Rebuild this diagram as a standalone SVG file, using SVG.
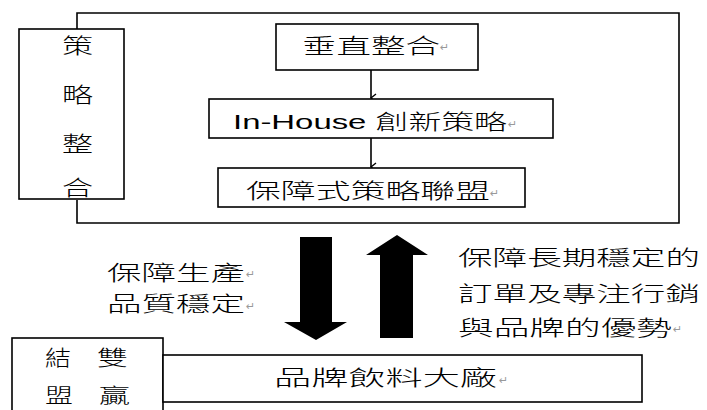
<svg xmlns="http://www.w3.org/2000/svg" width="707" height="410" viewBox="0 0 707 410">
<defs>
<style>
.box{fill:#fff;stroke:#000;stroke-width:1.6}
.ln{fill:none;stroke:#000;stroke-width:1.6}
.t{font-family:"Noto Sans CJK TC","Liberation Sans",sans-serif;font-size:21px;font-weight:300;fill:#000}
.lat{font-family:"Liberation Sans","Noto Sans CJK TC",sans-serif;font-size:21px;font-weight:300;fill:#000}
.rm{font-family:"DejaVu Sans",sans-serif;font-size:11px;fill:#999}
</style>
<marker id="ah" markerWidth="10" markerHeight="10" refX="5" refY="8" orient="auto" markerUnits="userSpaceOnUse" viewBox="0 0 10 10">
<path d="M1,3 L5,8 L9,3" fill="none" stroke="#000" stroke-width="1.4"/>
</marker>
</defs>
<rect width="707" height="410" fill="#fff"/>
<g id="connectors">
<polyline class="ln" points="77,29 77,13 679,13 679,223 77,223 77,200"/>
<path d="M69,199 L73,193 L77,199 Z" fill="#999"/>
<line class="ln" x1="371" y1="70" x2="371" y2="98" marker-end="url(#ah)"/>
<line class="ln" x1="371" y1="138" x2="371" y2="167" marker-end="url(#ah)"/>
<polygon points="300,237 332,237 332,322 347,322 316,340 284,322 300,322" fill="#000"/>
<polygon points="380,338 413,338 413,255 428,255 397,235 366,255 380,255" fill="#000"/>
</g>
<g id="strategy">
<rect class="box" x="19" y="29" width="105" height="170"/>
<text class="t" x="62" y="53" textLength="31" lengthAdjust="spacingAndGlyphs">策</text>
<text class="t" x="62" y="102" textLength="31" lengthAdjust="spacingAndGlyphs">略</text>
<text class="t" x="62" y="151" textLength="31" lengthAdjust="spacingAndGlyphs">整</text>
<text class="t" x="62" y="195" textLength="31" lengthAdjust="spacingAndGlyphs">合</text>
</g>
<g id="vertical">
<rect class="box" x="276" y="24" width="202" height="46"/>
<text class="t" x="302" y="53" textLength="138" lengthAdjust="spacingAndGlyphs">垂直整合</text>
<text class="rm" x="440" y="51">↵</text>
</g>
<g id="inhouse">
<rect class="box" x="209" y="99" width="344" height="39"/>
<text class="lat" x="233" y="129" textLength="274" lengthAdjust="spacingAndGlyphs">In-House 創新策略</text>
<text class="rm" x="508" y="128">↵</text>
</g>
<g id="alliance">
<rect class="box" x="218" y="168" width="307" height="39"/>
<text class="t" x="246" y="198" textLength="244" lengthAdjust="spacingAndGlyphs">保障式策略聯盟</text>
<text class="rm" x="490" y="197">↵</text>
</g>
<g id="label-left">
<text class="t" x="107" y="280" textLength="138" lengthAdjust="spacingAndGlyphs">保障生產</text>
<text class="rm" x="246" y="278">↵</text>
<text class="t" x="107" y="311" textLength="138" lengthAdjust="spacingAndGlyphs">品質穩定</text>
<text class="rm" x="246" y="310">↵</text>
</g>
<g id="label-right">
<text class="t" x="458" y="265" textLength="242" lengthAdjust="spacingAndGlyphs">保障長期穩定的</text>
<text class="t" x="458" y="301" textLength="242" lengthAdjust="spacingAndGlyphs">訂單及專注行銷</text>
<text class="t" x="458" y="335" textLength="214" lengthAdjust="spacingAndGlyphs">與品牌的優勢</text>
<text class="rm" x="673" y="333">↵</text>
</g>
<g id="winwin">
<rect class="box" x="12" y="338" width="151" height="80"/>
<text class="t" x="45" y="365" textLength="26" lengthAdjust="spacingAndGlyphs">結</text>
<text class="t" x="97" y="365" textLength="31" lengthAdjust="spacingAndGlyphs">雙</text>
<text class="t" x="45" y="403" style="font-size:20px" textLength="28" lengthAdjust="spacingAndGlyphs">盟</text>
<text class="t" x="99" y="403" style="font-size:20px" textLength="31" lengthAdjust="spacingAndGlyphs">贏</text>
</g>
<g id="brand">
<rect class="box" x="163" y="355" width="479" height="47"/>
<text class="t" x="274" y="385" textLength="223" lengthAdjust="spacingAndGlyphs">品牌飲料大廠</text>
<text class="rm" x="499" y="384">↵</text>
</g>
</svg>
